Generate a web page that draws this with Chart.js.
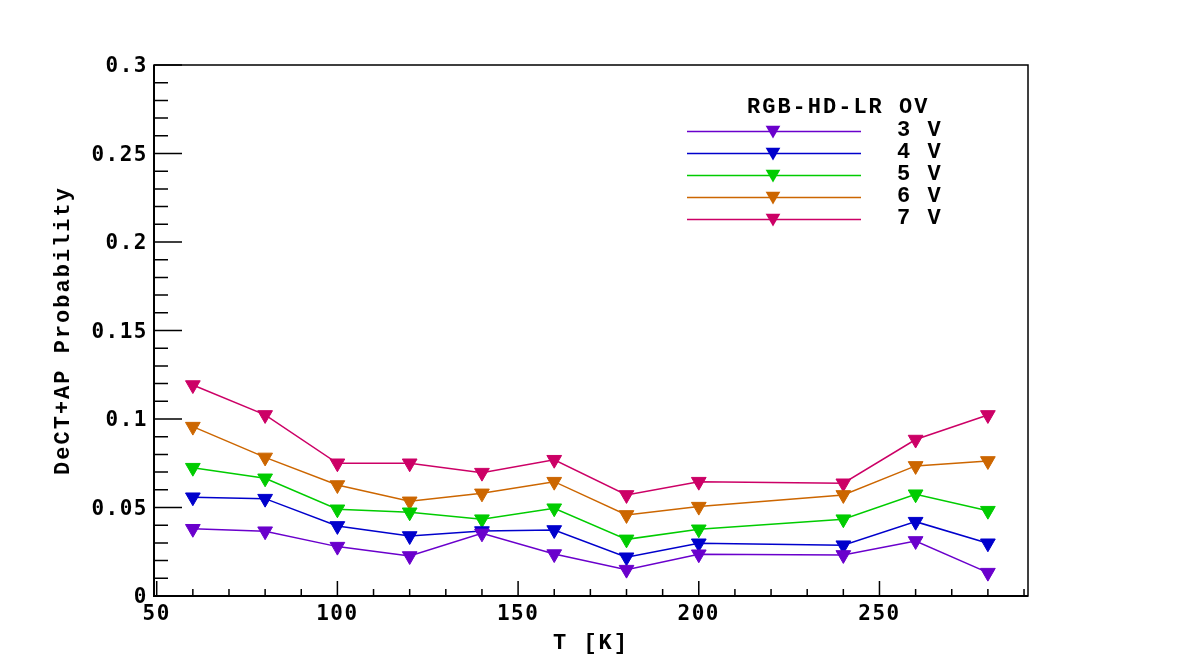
<!DOCTYPE html>
<html>
<head>
<meta charset="utf-8">
<script src="https://cdn.jsdelivr.net/npm/chart.js"></script>
<style>
  html, body { margin: 0; padding: 0; background: #ffffff; }
  canvas { display: block; }
</style>
</head>
<body>
<canvas id="c" width="1182" height="663"></canvas>
<script>
// ---------------- data ----------------
const temperatures = [60, 80, 100, 120, 140, 160, 180, 200, 240, 260, 280];
const ov3V = [0.0380, 0.0366, 0.0279, 0.0226, 0.0354, 0.0237, 0.0149, 0.0236, 0.0232, 0.0311, 0.0132];
const ov4V = [0.0558, 0.0550, 0.0396, 0.0339, 0.0367, 0.0373, 0.0219, 0.0298, 0.0287, 0.0420, 0.0298];
const ov5V = [0.0725, 0.0665, 0.0490, 0.0473, 0.0434, 0.0496, 0.0320, 0.0377, 0.0434, 0.0575, 0.0482];
const ov6V = [0.0957, 0.0783, 0.0627, 0.0535, 0.0580, 0.0646, 0.0458, 0.0505, 0.0571, 0.0735, 0.0763];
const ov7V = [0.1192, 0.1023, 0.0750, 0.0750, 0.0697, 0.0770, 0.0571, 0.0646, 0.0637, 0.0884, 0.1023];
const seriesLabels = ['3 V', '4 V', '5 V', '6 V', '7 V'];
const legendTitle = 'RGB-HD-LR OV';
const xTitle = 'T [K]';
const yTitle = 'DeCT+AP Probability';
const xMajorTicks = [50, 100, 150, 200, 250];
const xTickLabels = ['50', '100', '150', '200', '250'];
const yMajorTicks = [0, 0.05, 0.1, 0.15, 0.2, 0.25, 0.3];
const yTickLabels = ['0', '0.05', '0.1', '0.15', '0.2', '0.25', '0.3'];

// ---------------- styling ----------------
const colors = ['#6a00cc', '#0000cc', '#00cc00', '#cc6600', '#cc0066'];
const seriesValues = [ov3V, ov4V, ov5V, ov6V, ov7V];
const titleFont = 'bold 22px "Liberation Mono"';
const tickFontFamily = 'DejaVu Sans Mono';

const datasets = seriesValues.map((vals, i) => ({
  label: seriesLabels[i],
  data: temperatures.map((t, j) => ({ x: t, y: vals[j] })),
  borderColor: colors[i],
  backgroundColor: colors[i],
  pointBackgroundColor: colors[i],
  pointBorderColor: colors[i],
  pointBorderWidth: 1,
  borderWidth: 1.5,
  pointStyle: 'triangle',
  rotation: 180,
  pointRadius: 8.5,
  showLine: true,
  tension: 0,
  fill: false
}));

function drawDownTriangle(ctx, x, y, r, color) {
  ctx.beginPath();
  ctx.moveTo(x, y + r);
  ctx.lineTo(x - r * Math.sin(Math.PI / 3), y - r / 2);
  ctx.lineTo(x + r * Math.sin(Math.PI / 3), y - r / 2);
  ctx.closePath();
  ctx.fillStyle = color;
  ctx.fill();
}

const decorPlugin = {
  id: 'decor',
  beforeDraw(chart) {
    chart.ctx.letterSpacing = '1.5px';
  },
  afterDraw(chart) {
    const ctx = chart.ctx;
    const a = chart.chartArea;
    const xs = chart.scales.x, ys = chart.scales.y;
    ctx.save();
    ctx.strokeStyle = '#000';
    // frame
    ctx.lineWidth = 1.5;
    ctx.strokeRect(a.left, a.top, a.right - a.left, a.bottom - a.top);
    ctx.lineWidth = 2;
    ctx.beginPath();
    ctx.moveTo(a.left, a.top); ctx.lineTo(a.left, a.bottom); ctx.lineTo(a.right, a.bottom);
    ctx.stroke();
    // y ticks (inward)
    ctx.lineWidth = 1.5;
    ctx.beginPath();
    for (let k = 0; k <= 30; k++) {
      const v = k / 100;
      const py = ys.getPixelForValue(v);
      const len = (k % 5 === 0) ? 28 : 14;
      ctx.moveTo(a.left, py); ctx.lineTo(a.left + len, py);
    }
    // x ticks (inward)
    for (let v = 50; v <= xs.max; v += 10) {
      const px = xs.getPixelForValue(v);
      const len = (v % 50 === 0) ? 15 : 7;
      ctx.moveTo(px, a.bottom); ctx.lineTo(px, a.bottom - len);
    }
    ctx.stroke();

    // axis titles
    ctx.fillStyle = '#000';
    ctx.font = titleFont;
    ctx.letterSpacing = '2px';
    ctx.textAlign = 'center';
    ctx.textBaseline = 'middle';
    ctx.fillText(xTitle, (a.left + a.right) / 2, 643);
    ctx.save();
    ctx.translate(63, (a.top + a.bottom) / 2);
    ctx.rotate(-Math.PI / 2);
    ctx.fillText(yTitle, 0, 0);
    ctx.restore();

    // legend
    ctx.textAlign = 'left';
    ctx.fillText(legendTitle, 747, 107);
    chart.data.datasets.forEach((ds, i) => {
      const ly = 131.5 + i * 22;
      ctx.strokeStyle = ds.borderColor;
      ctx.lineWidth = 1.5;
      ctx.beginPath();
      ctx.moveTo(687, ly); ctx.lineTo(861, ly);
      ctx.stroke();
      drawDownTriangle(ctx, 773, ly - 1.5, 8.5, ds.borderColor);
      ctx.fillStyle = '#000';
      ctx.fillText(ds.label, 897, ly - 1);
    });
    ctx.restore();
  }
};

new Chart(document.getElementById('c'), {
  type: 'line',
  data: { datasets },
  plugins: [decorPlugin],
  options: {
    responsive: false,
    devicePixelRatio: 1,
    animation: false,
    layout: { padding: { left: 0, right: 154, top: 65, bottom: 0 } },
    plugins: { legend: { display: false }, tooltip: { enabled: false } },
    scales: {
      x: {
        type: 'linear',
        min: 49.25,
        max: 291.1,
        grid: { display: false, drawTicks: false },
        border: { display: false },
        afterBuildTicks: (s) => { s.ticks = xMajorTicks.map(v => ({ value: v })); },
        afterFit: (s) => { s.height = 67; },
        ticks: {
          autoSkip: false,
          maxRotation: 0,
          padding: 6,
          color: '#000',
          font: { family: tickFontFamily, size: 21, weight: 'bold' },
          callback: (v, i) => xTickLabels[i]
        }
      },
      y: {
        type: 'linear',
        min: 0,
        max: 0.3,
        grid: { display: false, drawTicks: false },
        border: { display: false },
        afterBuildTicks: (s) => { s.ticks = yMajorTicks.map(v => ({ value: v })); },
        afterFit: (s) => { s.width = 154; },
        ticks: {
          autoSkip: false,
          padding: 6,
          labelOffset: 2,
          color: '#000',
          font: { family: tickFontFamily, size: 21, weight: 'bold' },
          callback: (v, i) => yTickLabels[i]
        }
      }
    }
  }
});
</script>
</body>
</html>
